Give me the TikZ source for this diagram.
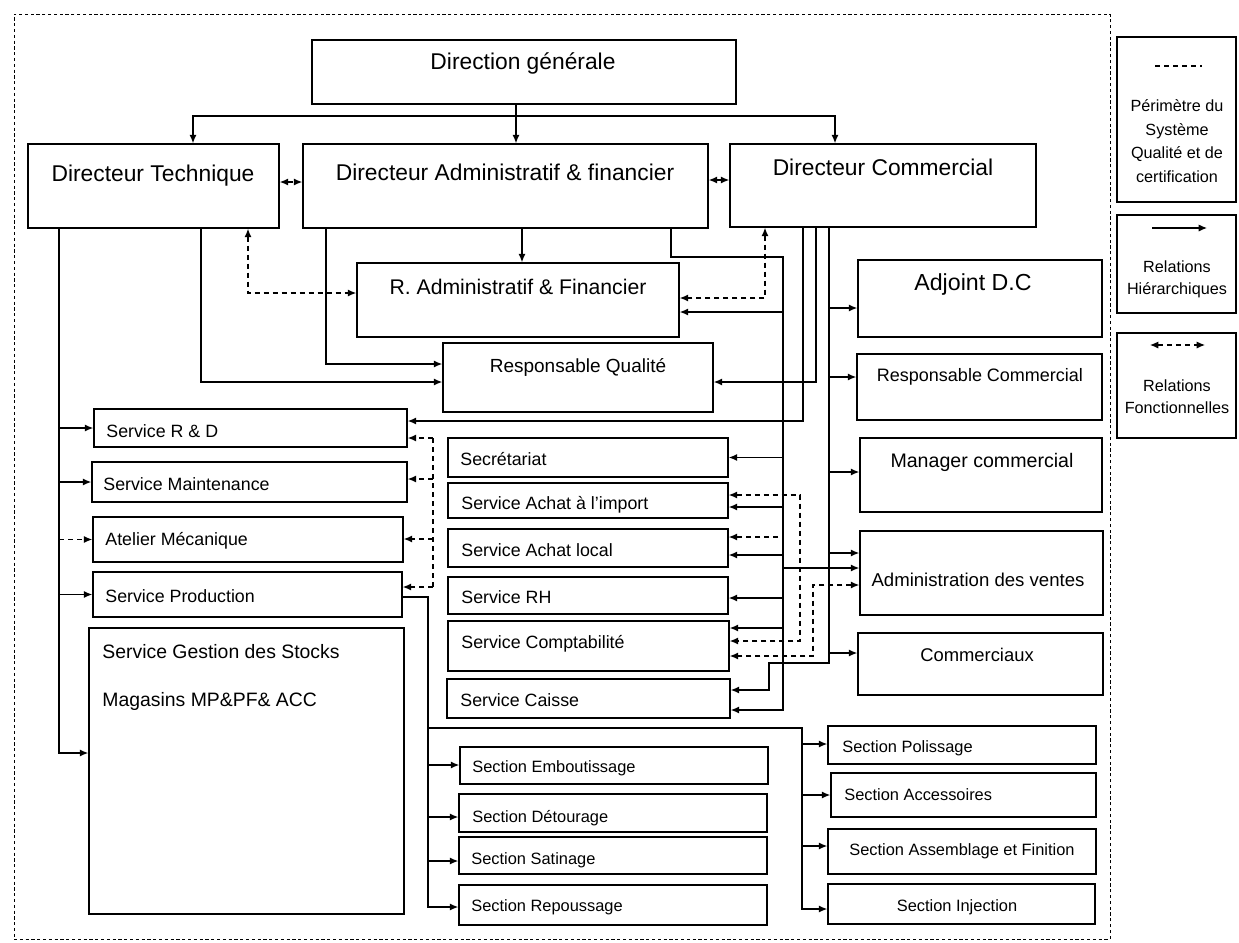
\documentclass[tikz,border=0pt]{standalone}
\usepackage{fontspec}
\setmainfont{Liberation Sans}
\usetikzlibrary{arrows.meta,fit,calc}
\newcommand\mkbox[5]{\node[box, fit={(#2,#3) (#4,#5)}] (#1) {};}
\begin{document}
\begin{tikzpicture}[x=0.5pt,y=-0.5pt,
  box/.style={draw, line width=0.8pt, inner sep=0pt},
  ln/.style={line width=0.6pt},
  arr/.style={ln, -{Latex[length=4.2pt,width=3.6pt]}},
  darr/.style={arr, dash pattern=on 2.5pt off 2pt},
  dd/.style={ln, {Latex[length=4.2pt,width=3.6pt]}-{Latex[length=4.2pt,width=3.6pt]}, dash pattern=on 2.5pt off 2pt},
  dl/.style={ln, dash pattern=on 2.5pt off 2pt},
  lab/.style={inner sep=0pt, anchor=mid, yshift=-1pt},
  labw/.style={inner sep=0pt, anchor=mid west, yshift=-1pt},
  fbig/.style={font=\fontsize{11.4}{13}\selectfont},
  fsrv/.style={font=\fontsize{8.9}{10.5}\selectfont},
  fsec/.style={font=\fontsize{8.2}{10}\selectfont},
  fleg/.style={inner sep=0pt, anchor=center, align=center},
]
\useasboundingbox (0,0) rectangle (1239,943);
% perimeter
\node[draw, inner sep=0pt, line width=0.5pt, dash pattern=on 1.6pt off 1.3pt, fit={(14,14) (1110,939)}] (perim) {};
% boxes
\mkbox{DG}{312}{40}{736}{104}
\mkbox{DT}{28}{144}{279}{228}
\mkbox{DAF}{303}{144}{708}{228}
\mkbox{DC}{730}{144}{1036}{227}
\mkbox{RAF}{357}{263}{679}{337}
\mkbox{RQ}{443}{343}{713}{412}
\mkbox{RD}{94}{409}{407}{447}
\mkbox{MA}{92}{462}{407}{502}
\mkbox{AT}{93}{517}{403}{562}
\mkbox{PR}{93}{572}{402}{617}
\mkbox{ST}{89}{628}{404}{914}
\mkbox{SE}{448}{438}{728}{477}
\mkbox{AI}{448}{483}{728}{518}
\mkbox{AL}{448}{529}{728}{567}
\mkbox{RH}{448}{577}{728}{614}
\mkbox{CO}{448}{621}{729}{671}
\mkbox{CA}{447}{679}{730}{718}
\mkbox{ADJ}{858}{260}{1102}{337}
\mkbox{RC}{857}{354}{1102}{420}
\mkbox{MC}{860}{438}{1102}{512}
\mkbox{AV}{860}{531}{1103}{615}
\mkbox{CM}{858}{633}{1103}{695}
\mkbox{EM}{460}{747}{768}{784}
\mkbox{DE}{459}{794}{767}{832}
\mkbox{SA}{459}{837}{767}{874}
\mkbox{RE}{459}{885}{767}{925}
\mkbox{PO}{828}{726}{1096}{764}
\mkbox{AC}{831}{773}{1096}{817}
\mkbox{AS}{828}{829}{1096}{874}
\mkbox{IN}{828}{884}{1095}{924}
\mkbox{L1}{1117}{37}{1236}{202}
\mkbox{L2}{1117}{215}{1236}{313}
\mkbox{L3}{1117}{333}{1236}{438}
% texts
\node[lab,fbig] (tDG) at (523,62) {Direction générale};
\node[lab,fbig] (tDT) at (153,174) {Directeur Technique};
\node[lab,fbig] (tDAF) at (505,173) {Directeur Administratif \& financier};
\node[lab,fbig] (tDC) at (883,168) {Directeur Commercial};
\node[lab,font=\fontsize{10.6}{12}\selectfont] (tRAF) at (518,287) {R. Administratif \& Financier};
\node[lab,font=\fontsize{9.5}{11}\selectfont] (tRQ) at (578,365) {Responsable Qualité};
\node[labw,fsrv] (tRD) at (106,430) {Service R \& D};
\node[labw,fsrv] (tMA) at (103,483) {Service Maintenance};
\node[labw,fsrv] (tAT) at (105,538) {Atelier Mécanique};
\node[labw,fsrv] (tPR) at (105,595) {Service Production};
\node[labw,font=\fontsize{9.7}{11}\selectfont] (tST1) at (102,651) {Service Gestion des Stocks};
\node[labw,font=\fontsize{9.7}{11}\selectfont] (tST2) at (102,699) {Magasins MP\&PF\& ACC};
\node[labw,fsrv] (tSE) at (460,458) {Secrétariat};
\node[labw,fsrv] (tAI) at (461,502) {Service Achat à l’import};
\node[labw,fsrv] (tAL) at (461,549) {Service Achat local};
\node[labw,fsrv] (tRH) at (461,596) {Service RH};
\node[labw,fsrv] (tCO) at (461,641) {Service Comptabilité};
\node[labw,fsrv] (tCA) at (460,699) {Service Caisse};
\node[lab,font=\fontsize{11.6}{13}\selectfont] (tADJ) at (973,283) {Adjoint D.C};
\node[lab,font=\fontsize{9.0}{11}\selectfont] (tRC) at (980,374) {Responsable Commercial};
\node[lab,font=\fontsize{9.8}{11}\selectfont] (tMC) at (982,460) {Manager commercial};
\node[lab,font=\fontsize{9.3}{11}\selectfont] (tAV) at (978,579) {Administration des ventes};
\node[lab,font=\fontsize{9.2}{11}\selectfont] (tCM) at (977,654) {Commerciaux};
\node[labw,fsec] (tEM) at (472,765) {Section Emboutissage};
\node[labw,fsec] (tDE) at (472,815) {Section Détourage};
\node[labw,fsec] (tSA) at (471,857) {Section Satinage};
\node[labw,fsec] (tRE) at (471,904) {Section Repoussage};
\node[labw,fsec] (tPO) at (842,745) {Section Polissage};
\node[labw,fsec] (tAC) at (844,793) {Section Accessoires};
\node[lab,fsec] (tAS) at (962,848) {Section Assemblage et Finition};
\node[lab,fsec] (tIN) at (957,904) {Section Injection};
\node[fleg,font=\fontsize{8.1}{11.8}\selectfont] (tL1) at (1177,141) {Périmètre du\\Système\\Qualité et de\\certification};
\node[fleg,font=\fontsize{8.1}{11}\selectfont] (tL2) at (1177,279) {Relations\\Hiérarchiques};
\node[fleg,font=\fontsize{8.1}{11}\selectfont] (tL3) at (1177,397) {Relations\\Fonctionnelles};
% legend symbols
\coordinate (lg1a) at (1155,66); \coordinate (lg1b) at (1202,66);
\coordinate (lg2a) at (1152,228); \coordinate (lg2b) at (1207,228);
\coordinate (lg3a) at (1150,345); \coordinate (lg3b) at (1205,345);
\draw[dl] (lg1a) -- (lg1b);
\draw[arr] (lg2a) -- (lg2b);
\draw[dd] (lg3a) -- (lg3b);
% DG bus
\coordinate (bus) at (516,116);
\coordinate (busL) at (193,116);
\coordinate (busR) at (835,116);
\draw[arr] (DG.south -| bus) -- (DAF.north -| bus);
\draw[arr] (bus) -- (busL) -- (DT.north -| busL);
\draw[arr] (bus) -- (busR) -- (DC.north -| busR);
% functional between directors
\draw[dd] (DT.east |- 0,182) -- (DAF.west |- 0,182);
\draw[dd] (DAF.east |- 0,180) -- (DC.west |- 0,180);
% DT trunk
\draw[arr] (DT.south -| 59,0) |- (ST.west |- 0,753);
\draw[arr] (RD.west -| 59,0) -- (RD.west);
\draw[arr] (MA.west -| 59,0) -- (MA.west);
\draw[darr] (AT.west -| 59,0) -- (AT.west);
\draw[arr] (PR.west -| 59,0) -- (PR.west);
% to RQ
\draw[arr] (DT.south -| 201,0) |- (RQ.west |- 0,382);
\draw[arr] (DAF.south -| 326,0) |- (RQ.west |- 0,364);
\draw[arr] (DAF.south -| 522,0) -- (RAF.north -| 522,0);
\draw[dd] (DT.south -| 248,0) |- (RAF.west |- 0,293);
\draw[dd] (DC.south -| 765,0) |- (RAF.east |- 0,298);
% DAF admin line
\draw[arr] (DAF.south -| 671,0) |- (783,257) |- (CA.east |- 0,710);
\draw[arr] (783,312) -- (RAF.east |- 0,312);
\draw[arr] (SE.east -| 783,0) -- (SE.east);
\draw[arr] (783,507) -- (AI.east |- 0,507);
\draw[arr] (783,555) -- (AL.east |- 0,555);
\draw[darr] (778,537) -- (AL.east |- 0,537);
\draw[arr] (783,598) -- (RH.east |- 0,598);
\draw[arr] (783,628) -- (CO.east |- 0,628);
\draw[arr] (783,568) -- (AV.west |- 0,568);
% DC lines
\draw[arr] (DC.south -| 803,0) |- (RD.east |- 0,421);
\draw[arr] (DC.south -| 816,0) |- (RQ.east |- 0,382);
\draw[arr] (DC.south -| 829,0) -- (829,663) -- (769,663) |- (CA.east |- 0,690);
\draw[arr] (829,308) -- (ADJ.west |- 0,308);
\draw[arr] (829,377) -- (RC.west |- 0,377);
\draw[arr] (829,472) -- (MC.west |- 0,472);
\draw[arr] (829,553) -- (AV.west |- 0,553);
\draw[arr] (829,653) -- (CM.west |- 0,653);
% functional among services
\draw[dd] (AI.east |- 0,495) -| (800,641) -- (CO.east |- 0,641);
\draw[dd] (AV.west |- 0,585) -| (813,656) -- (CO.east |- 0,656);
\draw[dl] (433,438) -- (433,587);
\draw[darr] (433,438) -- (RD.east |- 0,438);
\draw[darr] (433,479) -- (MA.east |- 0,479);
\draw[darr] (433,539) -- (AT.east |- 0,539);
\draw[darr] (433,587) -- (PR.east |- 0,587);
% production sections
\draw[arr] (PR.east |- 0,597) -| (428,907) -- (RE.west |- 0,907);
\draw[arr] (428,765) -- (EM.west |- 0,765);
\draw[arr] (428,817) -- (DE.west |- 0,817);
\draw[arr] (428,861) -- (SA.west |- 0,861);
\draw[arr] (428,728) -| (802,909) -- (IN.west |- 0,909);
\draw[arr] (802,744) -- (PO.west |- 0,744);
\draw[arr] (802,795) -- (AC.west |- 0,795);
\draw[arr] (802,846) -- (AS.west |- 0,846);
\end{tikzpicture}
\end{document}
